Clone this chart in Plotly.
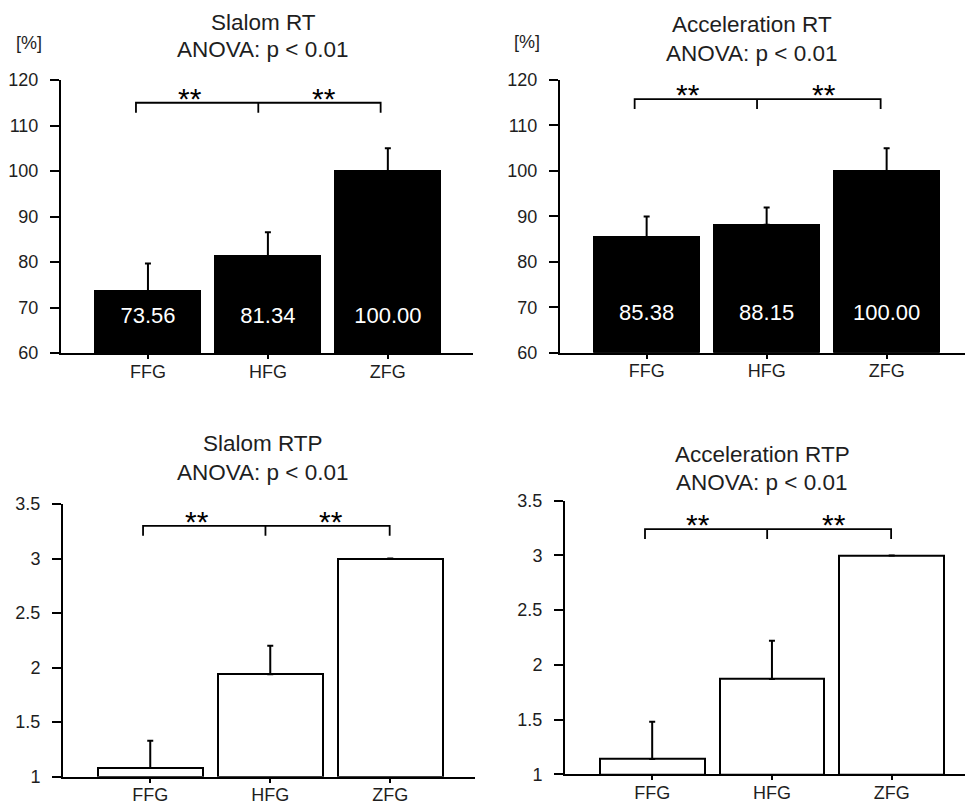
import plotly.graph_objects as go

W, H = 965, 804

# ---------------- data ----------------
categories = ["FFG", "HFG", "ZFG"]

slalom_rt = [73.56, 81.34, 100.00]
slalom_rt_err = [6.1, 5.2, 5.0]

accel_rt = [85.38, 88.15, 100.00]
accel_rt_err = [4.6, 3.8, 5.0]

slalom_rtp = [1.08, 1.94, 3.00]
slalom_rtp_err = [0.25, 0.26, 0.0]

accel_rtp = [1.14, 1.87, 3.00]
accel_rtp_err = [0.34, 0.35, 0.0]

titles = [
    ("Slalom RT", "ANOVA: p < 0.01"),
    ("Acceleration RT", "ANOVA: p < 0.01"),
    ("Slalom RTP", "ANOVA: p < 0.01"),
    ("Acceleration RTP", "ANOVA: p < 0.01"),
]
sig_label = "**"
unit_label = "[%]"

# ---------------- layout config (pixels) ----------------
FONT = "Liberation Sans, Arial, sans-serif"
TXT = "#1e1e1e"

panels = [
    dict(vals=slalom_rt, err=slalom_rt_err, fill="black", show_vals=True,
         xpx=(61, 473), ypx=(80, 353), xr=(-0.725, 2.71), yr=(60, 120), dtick=10,
         br_y=115.0, br_tick=112.8, br_x=(-0.10, 0.92, 1.94), star_x=(0.35, 1.47),
         lbl_y=67.7, title_x=263, title_y=(23, 50), unit=(29, 43)),
    dict(vals=accel_rt, err=accel_rt_err, fill="black", show_vals=True,
         xpx=(560, 965), ypx=(80, 352.7), xr=(-0.722, 2.653), yr=(60, 120), dtick=10,
         br_y=115.8, br_tick=113.6, br_x=(-0.10, 0.92, 1.95), star_x=(0.344, 1.478),
         lbl_y=68.4, title_x=752, title_y=(25, 53), unit=(527, 42)),
    dict(vals=slalom_rtp, err=slalom_rtp_err, fill="white", show_vals=False,
         xpx=(63, 475), ypx=(504, 776.7), xr=(-0.727, 2.706), yr=(1, 3.5), dtick=0.5,
         br_y=3.30, br_tick=3.21, br_x=(-0.06, 0.96, 1.995), star_x=(0.387, 1.51),
         lbl_y=None, title_x=263, title_y=(443, 472), unit=None),
    dict(vals=accel_rtp, err=accel_rtp_err, fill="white", show_vals=False,
         xpx=(565, 965), ypx=(500.7, 774.3), xr=(-0.728, 2.612), yr=(1, 3.5), dtick=0.5,
         br_y=3.24, br_tick=3.15, br_x=(-0.06, 0.96, 1.995), star_x=(0.385, 1.52),
         lbl_y=None, title_x=762, title_y=(455, 482), unit=None),
]

fig = go.Figure()
shapes = []
annotations = []

for i, p in enumerate(panels, start=1):
    xa = "x" if i == 1 else f"x{i}"
    ya = "y" if i == 1 else f"y{i}"
    xidx = list(range(len(categories)))

    fig.add_trace(go.Bar(
        x=xidx, y=[v - p["yr"][0] for v in p["vals"]], base=p["yr"][0],
        width=0.875,
        marker=dict(color=p["fill"], line=dict(color="black", width=2)),
        error_y=dict(type="data", symmetric=False, array=p["err"],
                     arrayminus=[0] * len(categories),
                     color="black", thickness=2, width=3),
        xaxis=xa, yaxis=ya, showlegend=False, hoverinfo="skip",
    ))

    if p["show_vals"]:
        fig.add_trace(go.Scatter(
            x=xidx, y=[p["lbl_y"]] * len(categories), mode="text",
            text=[f"{v:.2f}" for v in p["vals"]],
            textfont=dict(family=FONT, size=22, color="white"),
            textposition="middle center",
            xaxis=xa, yaxis=ya, showlegend=False, hoverinfo="skip",
        ))

    # axes
    xdom = [p["xpx"][0] / W, p["xpx"][1] / W]
    ydom = [1 - p["ypx"][1] / H, 1 - p["ypx"][0] / H]
    axkey_x = "xaxis" if i == 1 else f"xaxis{i}"
    axkey_y = "yaxis" if i == 1 else f"yaxis{i}"
    fig.layout[axkey_x] = dict(
        domain=xdom, range=list(p["xr"]), anchor=ya, automargin=False,
        tickmode="array", tickvals=xidx, ticktext=categories,
        showline=True, linecolor="black", linewidth=2,
        ticks="outside", ticklen=4, tickwidth=1.5, tickcolor="black",
        tickfont=dict(family=FONT, size=18, color=TXT),
        ticklabelstandoff=-3,
        showgrid=False, zeroline=False, fixedrange=True,
    )
    fig.layout[axkey_y] = dict(
        domain=ydom, range=list(p["yr"]), anchor=xa, automargin=False,
        dtick=p["dtick"], tick0=p["yr"][0],
        showline=True, linecolor="black", linewidth=2,
        ticks="outside", ticklen=9, tickwidth=1.5, tickcolor="black",
        tickfont=dict(family=FONT, size=18, color=TXT),
        ticklabelstandoff=8,
        showgrid=False, zeroline=False, fixedrange=True,
    )

    # significance bracket
    l, m, r = p["br_x"]
    by, bt = p["br_y"], p["br_tick"]
    shapes.append(dict(
        type="path", xref=xa, yref=ya,
        path=f"M {l},{bt} L {l},{by} L {r},{by} L {r},{bt} M {m},{by} L {m},{bt}",
        line=dict(color="black", width=1.8),
    ))
    for sx in p["star_x"]:
        annotations.append(dict(
            x=sx, y=by, xref=xa, yref=ya, text=sig_label, showarrow=False,
            xanchor="center", yanchor="bottom", yshift=-14,
            font=dict(family=FONT, size=30, color="black"),
        ))

    # titles
    for line, ty in zip(titles[i - 1], p["title_y"]):
        annotations.append(dict(
            x=p["title_x"] / W, y=1 - ty / H, xref="paper", yref="paper",
            text=line, showarrow=False, xanchor="center", yanchor="middle",
            font=dict(family=FONT, size=22.5, color=TXT),
        ))
    if p["unit"]:
        annotations.append(dict(
            x=p["unit"][0] / W, y=1 - p["unit"][1] / H, xref="paper", yref="paper",
            text=unit_label, showarrow=False, xanchor="center", yanchor="middle",
            font=dict(family=FONT, size=18, color=TXT),
        ))

fig.update_layout(
    width=W, height=H, margin=dict(l=0, r=0, t=0, b=0, autoexpand=False),
    paper_bgcolor="white", plot_bgcolor="white",
    shapes=shapes, annotations=annotations, bargap=0,
)

fig.write_html(
    "out.html",
    config={"displayModeBar": False},
    post_script="document.body.style.margin='0px';document.body.style.overflow='hidden';",
)
